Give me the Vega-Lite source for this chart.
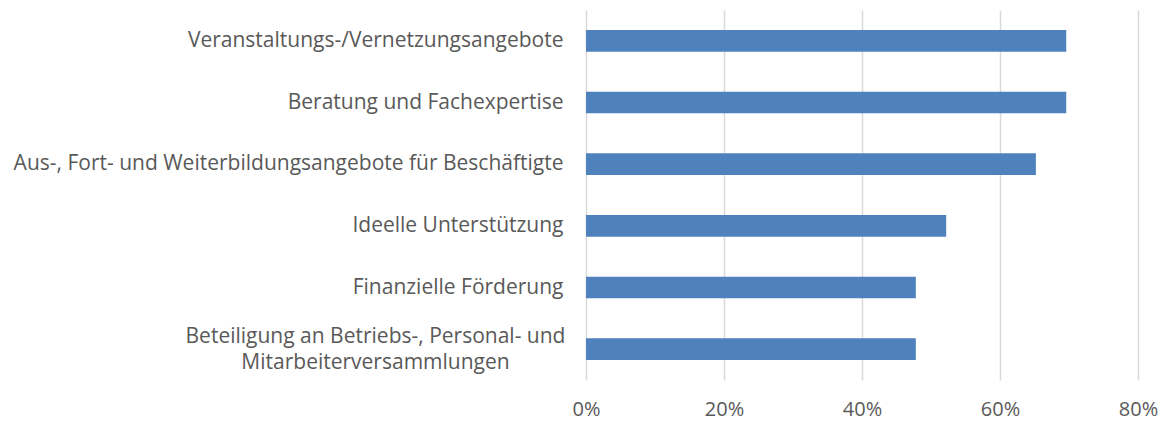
{
  "$schema": "https://vega.github.io/schema/vega-lite/v6.json",
  "autosize": "none",
  "width": 552,
  "height": 370,
  "padding": {"left": 586, "top": 10, "right": 31, "bottom": 41},
  "background": "white",
  "data": {
    "values": [
      {"kategorie": "Veranstaltungs-/Vernetzungsangebote\u00a0", "anteil": 0.696},
      {"kategorie": "Beratung und Fachexpertise", "anteil": 0.696},
      {"kategorie": "Aus-, Fort- und Weiterbildungsangebote für Beschäftigte", "anteil": 0.652},
      {"kategorie": "Ideelle Unterstützung", "anteil": 0.522},
      {"kategorie": "Finanzielle Förderung", "anteil": 0.478},
      {"kategorie": "Beteiligung an Betriebs-, Personal- und|Mitarbeiterversammlungen", "anteil": 0.478}
    ]
  },
  "mark": {"type": "bar", "color": "#4f81bd"},
  "encoding": {
    "y": {
      "field": "kategorie",
      "type": "nominal",
      "sort": null,
      "scale": {"paddingInner": 0.648, "paddingOuter": 0.324},
      "axis": {
        "title": null,
        "domain": false,
        "ticks": false,
        "grid": false,
        "labelExpr": "split(datum.label, '|')",
        "labelFont": "Open Sans",
        "labelFontSize": 21,
        "labelColor": "#595959",
        "labelLimit": 700,
        "labelLineHeight": 26,
        "labelAlign": {"condition": {"test": "indexof(datum.value, '|') >= 0", "value": "center"}, "value": "right"},
        "labelPadding": {"condition": {"test": "indexof(datum.value, '|') >= 0", "value": 211}, "value": 23},
        "labelOffset": {"condition": {"test": "indexof(datum.value, '|') >= 0", "value": -12}, "value": 0}
      }
    },
    "x": {
      "field": "anteil",
      "type": "quantitative",
      "scale": {"domain": [0, 0.8], "nice": false},
      "axis": {
        "title": null,
        "format": ".0%",
        "values": [0, 0.2, 0.4, 0.6, 0.8],
        "domain": false,
        "ticks": false,
        "grid": true,
        "gridColor": "#d9d9d9",
        "gridWidth": 1.5,
        "labelFlush": false,
        "labelFont": "Open Sans",
        "labelFontSize": 20,
        "labelColor": "#595959",
        "labelPadding": 19
      }
    }
  },
  "config": {"view": {"stroke": null}}
}
